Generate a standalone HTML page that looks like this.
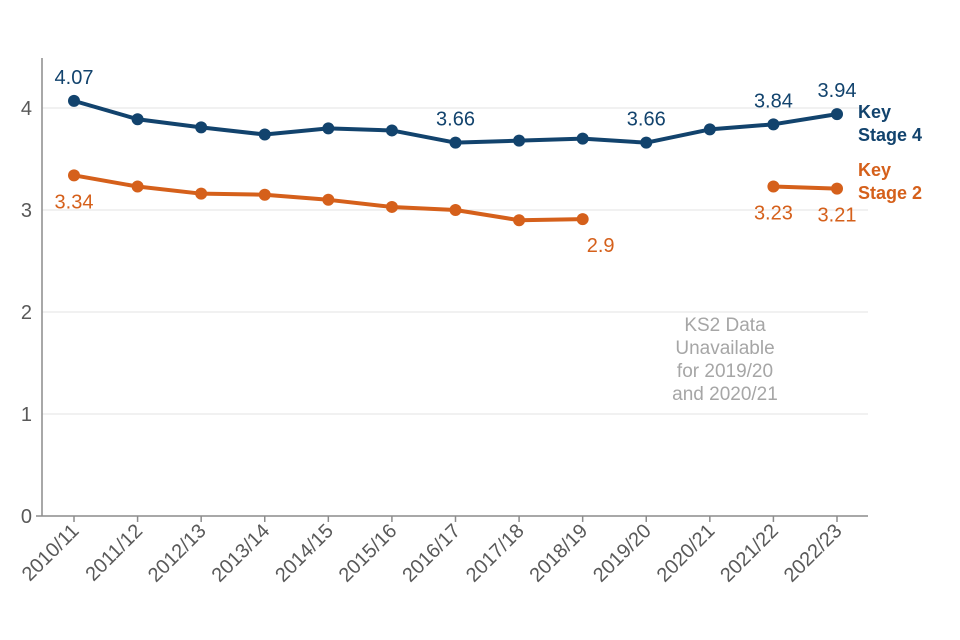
<!DOCTYPE html>
<html><head><meta charset="utf-8"><style>
body{margin:0;background:#fff}
svg{display:block;font-family:"Liberation Sans",Arial,sans-serif}
</style></head><body>
<svg id="chart" width="960" height="640" viewBox="0 0 960 640" xmlns="http://www.w3.org/2000/svg">
<g id="grid"></g><g id="axes"></g><g id="series"></g><g id="labels"></g>
<text x="725" y="331" text-anchor="middle" font-size="19" fill="#a6a6a6"><tspan x="725">KS2 Data</tspan><tspan x="725" dy="23">Unavailable</tspan><tspan x="725" dy="23">for 2019/20</tspan><tspan x="725" dy="23">and 2020/21</tspan></text>
<text x="858" y="118" font-size="18" font-weight="bold" fill="#12436d"><tspan x="858">Key</tspan><tspan x="858" dy="23">Stage 4</tspan></text>
<text x="858" y="176" font-size="18" font-weight="bold" fill="#d5601b"><tspan x="858">Key</tspan><tspan x="858" dy="23">Stage 2</tspan></text>
</svg>
<script>
const categories=["2010/11","2011/12","2012/13","2013/14","2014/15","2015/16","2016/17","2017/18","2018/19","2019/20","2020/21","2021/22","2022/23"];
const ks4=[4.07,3.89,3.81,3.74,3.80,3.78,3.66,3.68,3.70,3.66,3.79,3.84,3.94];
const ks2=[3.34,3.23,3.16,3.15,3.10,3.03,3.00,2.90,2.91,null,null,3.23,3.21];
const yTicks=[0,1,2,3,4];
const ks4Labels=[[0,"4.07"],[6,"3.66"],[9,"3.66"],[11,"3.84"],[12,"3.94"]];
const ks2Labels=[[0,"3.34"],[8,"2.9"],[11,"3.23"],[12,"3.21"]];

const NS="http://www.w3.org/2000/svg";
const x=i=>74+i*(837-74)/12;
const y=v=>516-v*102;
function mk(tag,attrs,parent,text){const e=document.createElementNS(NS,tag);for(const k in attrs)e.setAttribute(k,attrs[k]);if(text!=null)e.textContent=text;document.getElementById(parent).appendChild(e);return e;}

yTicks.forEach(t=>{
  if(t>0){const g=mk('line',{x1:42,x2:868,y1:y(t),y2:y(t),stroke:'#e3e3e3','stroke-width':1},'grid');
  
  }
  const l=mk('text',{x:32,y:y(t)+7,'text-anchor':'end','font-size':20,fill:'#595959'},'axes',String(t));
  
  
});
const ya=mk('line',{x1:42,x2:42,y1:58,y2:516,stroke:'#8c8c8c','stroke-width':1.5},'axes');


const xa=mk('line',{x1:36,x2:868,y1:516,y2:516,stroke:'#8c8c8c','stroke-width':1.5},'axes');


categories.forEach((c,i)=>{
  const tk=mk('line',{x1:x(i),x2:x(i),y1:516,y2:522,stroke:'#8c8c8c','stroke-width':1.5},'axes');
  
  
  const t=mk('text',{x:x(i)+6,y:532,'text-anchor':'end','font-size':20,fill:'#595959',transform:`rotate(-45 ${x(i)+6} 532)`},'axes',c);
  
  
});
function drawSeries(vals,color,name){
  let segs=[],cur=[];
  vals.forEach((v,i)=>{if(v==null){if(cur.length)segs.push(cur);cur=[];}else cur.push([x(i),y(v)]);});
  if(cur.length)segs.push(cur);
  segs.forEach(s=>{const p=mk('polyline',{points:s.map(q=>q.join(',')).join(' '),fill:'none',stroke:color,'stroke-width':4,'stroke-linejoin':'round'},'series');
    
    });
  vals.forEach((v,i)=>{if(v==null)return;const c=mk('circle',{cx:x(i),cy:y(v),r:6,fill:color},'series');
    
    });
}
drawSeries(ks4,'#12436d','key-stage-4');
drawSeries(ks2,'#d5601b','key-stage-2');
ks4Labels.forEach(([i,s])=>{const t=mk('text',{x:x(i),y:y(ks4[i])-17,'text-anchor':'middle','font-size':20,fill:'#12436d'},'labels',s);
  
  });
ks2Labels.forEach(([i,s])=>{const dx=(i==8)?18:0;const t=mk('text',{x:x(i)+dx,y:y(ks2[i])+33,'text-anchor':'middle','font-size':20,fill:'#d5601b'},'labels',s);
  
  });
</script>
</body></html>
